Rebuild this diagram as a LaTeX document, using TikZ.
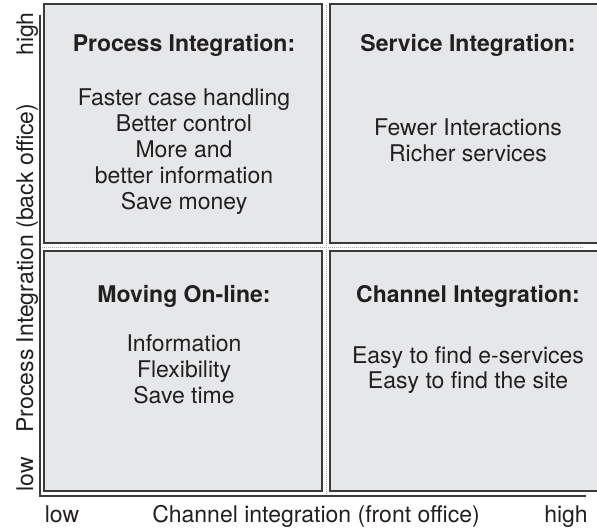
\documentclass[tikz,border=0pt]{standalone}
\usepackage{fontspec}
\setmainfont{TeX Gyre Heros}
\begin{document}
\begin{tikzpicture}[x=1pt,y=-1pt,
  quad/.style={draw=boxline,line width=1.6pt,fill=boxfill},
  axis/.style={draw=boxline,line width=1.4pt},
  divider/.style={draw=gray!70,line width=0.8pt,dash pattern=on 1pt off 1pt},
  txt/.style={inner sep=0pt,anchor=base,text=ink,font=\fontsize{23}{26}\selectfont},
  title/.style={txt,font=\fontsize{23}{26}\selectfont\bfseries},
  ylab/.style={txt,rotate=90}]
\definecolor{boxfill}{HTML}{E6E7E9}
\definecolor{boxline}{HTML}{3A3A3A}
\definecolor{ink}{HTML}{231F20}
\useasboundingbox (0,0) rectangle (597,529);

% the four quadrants
\draw[quad] (44,4) rectangle (322,243);
\draw[quad] (330,4) rectangle (608,243);
\draw[quad] (44,251) rectangle (322,491);
\draw[quad] (330,251) rectangle (608,491);

% dotted separators between the quadrants
\coordinate (vtop) at (326,5);
\coordinate (vbot) at (326,495);
\coordinate (hleft) at (42,247);
\coordinate (hright) at (583,247);
\draw[divider] (vtop) -- (vbot);
\draw[divider] (hleft) -- (hright);

% axes
\coordinate (ytop) at (40,15);
\coordinate (origin) at (40,496);
\coordinate (xend) at (586,496);
\draw[axis] (ytop) -- (origin) -- (xend);

% process integration quadrant
\node[title] (pt) at (184,52) {Process Integration:};
\foreach \t [count=\i] in {Faster case handling,Better control,More and,better information,Save money}
  \node[txt] (p\i) at (184,{106+25.8*(\i-1)}) {\t};

% service integration quadrant
\node[title] (st) at (468,52) {Service Integration:};
\foreach \t [count=\i] in {Fewer Interactions,Richer services}
  \node[txt] (s\i) at (468,{136+25.8*(\i-1)}) {\t};

% moving on-line quadrant
\node[title] (mt) at (184,303) {Moving On-line:};
\foreach \t [count=\i] in {Information,Flexibility,Save time}
  \node[txt] (m\i) at (184,{352+25.8*(\i-1)}) {\t};

% channel integration quadrant
\node[title] (ct) at (468,303) {Channel Integration:};
\foreach \t [count=\i] in {Easy to find e-services,Easy to find the site}
  \node[txt] (c\i) at (468,{363+25.6*(\i-1)}) {\t};

% axis labels
\node[txt] (xlow) at (62,522) {low};
\node[txt] (xlab) at (316,522) {Channel integration (front office)};
\node[txt] (xhigh) at (566,522) {high};
\node[ylab] (yhigh) at (33,34) {high};
\node[ylab] (ylab) at (33,268) {Process Integration (back office)};
\node[ylab] (ylow) at (33,474) {low};
\end{tikzpicture}
\end{document}
